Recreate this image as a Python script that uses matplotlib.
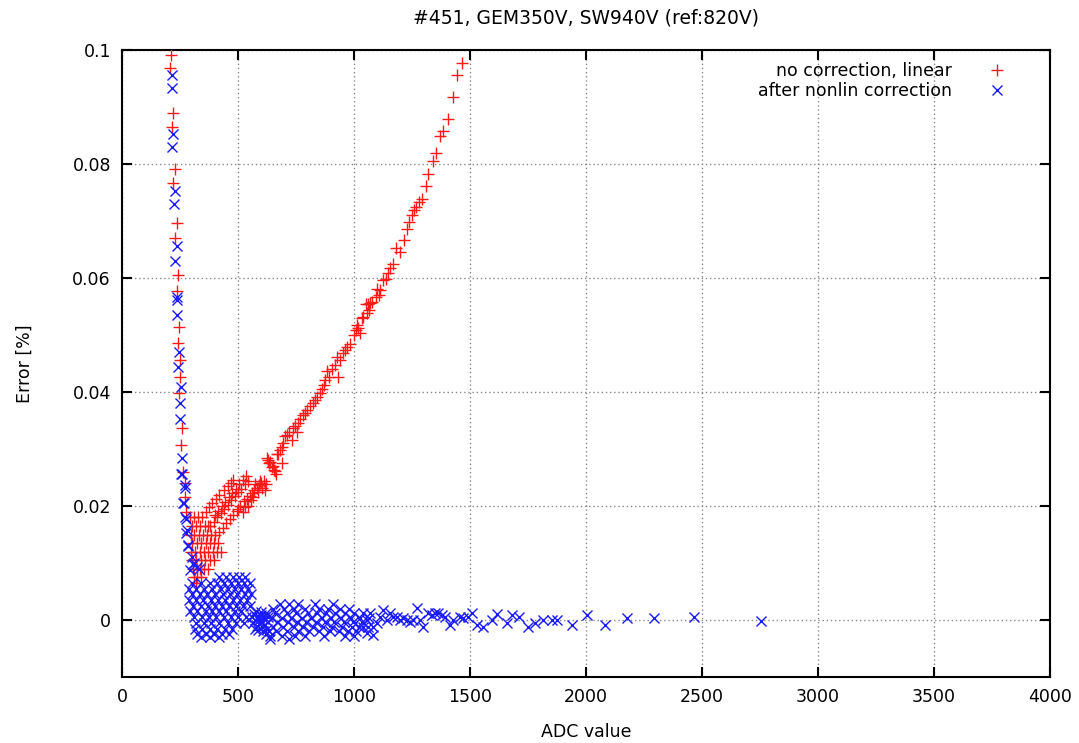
import matplotlib
matplotlib.use("Agg")
import matplotlib.pyplot as plt
from matplotlib.lines import Line2D

title = "#451, GEM350V, SW940V (ref:820V)"
xlabel = "ADC value"
ylabel = "Error [%]"
label_red = "no correction, linear"
label_blue = "after nonlin correction"
xticks = [0, 500, 1000, 1500, 2000, 2500, 3000, 3500, 4000]
yticks = [0, 0.02, 0.04, 0.06, 0.08, 0.1]
ytick_labels = ["0", "0.02", "0.04", "0.06", "0.08", "0.1"]

# ---- red: no correction, linear ----
red_steep_x = [210, 207, 221, 215, 228, 221, 235, 228, 240, 236, 245, 242, 252, 250, 247, 257, 253, 272, 265, 270, 278]
red_steep_y = [0.0991, 0.0968, 0.0889, 0.0865, 0.0792, 0.0766, 0.0697, 0.0671, 0.0605, 0.0578, 0.0514, 0.0486,
               0.0456, 0.0427, 0.0398, 0.0336, 0.0307, 0.0240, 0.0260, 0.0215, 0.0190]

red_lobe_x = [295, 312, 328, 345,
              300, 318, 338, 356, 372,
              296, 310, 330, 348, 368, 385, 400,
              300, 322, 340, 360, 380, 398, 415,
              298, 315, 335, 352, 372, 392, 410, 428,
              302, 320, 340, 358, 378, 395,
              305, 322, 338, 355, 372,
              310, 325, 342,
              318]
red_lobe_y = [0.018, 0.018, 0.018, 0.018,
              0.0165, 0.0165, 0.0165, 0.0165, 0.0165,
              0.015, 0.015, 0.015, 0.015, 0.015, 0.015, 0.015,
              0.0135, 0.0135, 0.0135, 0.0135, 0.0135, 0.0135, 0.0135,
              0.012, 0.012, 0.012, 0.012, 0.012, 0.012, 0.012, 0.012,
              0.0105, 0.0105, 0.0105, 0.0105, 0.0105, 0.0105,
              0.009, 0.009, 0.009, 0.009, 0.009,
              0.0075, 0.0075, 0.0075,
              0.0065]

red_band_x = [380, 395, 410, 425, 440, 455, 470, 485, 500, 515, 530, 545,
              400, 415, 430, 445, 460, 475, 490, 505, 520, 535,
              420, 435, 450, 465, 480, 495, 510, 525,
              360, 375, 390, 405, 420, 440, 455, 470, 480,
              540, 550, 560, 570, 580, 590, 600, 610, 620, 575, 595, 605, 615, 585, 565, 555,
              500, 520, 530, 545]
red_band_y = [0.0165, 0.0172, 0.018, 0.0188, 0.0195, 0.0202, 0.021, 0.0218, 0.0225, 0.023, 0.0238, 0.0243,
              0.0185, 0.0192, 0.0200, 0.0207, 0.0215, 0.0222, 0.023, 0.0238, 0.0245, 0.0252,
              0.0155, 0.0162, 0.017, 0.0178, 0.0185, 0.0192, 0.02, 0.0208,
              0.019, 0.0198, 0.0205, 0.0212, 0.022, 0.0228, 0.0235, 0.024, 0.0245,
              0.0212, 0.0218, 0.0222, 0.0228, 0.0232, 0.0236, 0.024, 0.0243, 0.0238, 0.0238, 0.0244, 0.0232, 0.0228, 0.0225, 0.0215, 0.021,
              0.0195, 0.019, 0.0198, 0.020]

red_upper_x = [624, 635, 645, 655, 664, 630, 640, 650, 660,
               667, 674, 681, 688, 695, 688, 703, 712, 721, 731,
               736, 753, 746, 760, 767, 779, 789, 799,
               810, 822, 832, 839, 853, 861, 871, 875,
               893, 882, 932, 904, 918, 928, 940,
               951, 961, 971, 983, 1009, 1019, 1012, 1000, 1026,
               1033, 1040, 1052, 1062, 1066, 1076, 1055, 1069,
               1095, 1109, 1100, 1112, 1126, 1138, 1148, 1155, 1167,
               1198, 1181, 1215, 1227, 1238, 1249, 1259, 1267, 1281, 1292,
               1309, 1320, 1339, 1353, 1371, 1385, 1404, 1428, 1445, 1467]
red_upper_y = [0.0284, 0.0275, 0.0269, 0.0263, 0.0257, 0.0280, 0.0278, 0.0270, 0.0262,
               0.0291, 0.0292, 0.0299, 0.0304, 0.0310, 0.0275, 0.0322, 0.0324, 0.0330, 0.0316,
               0.0336, 0.0330, 0.0340, 0.0345, 0.0352, 0.0360, 0.0363, 0.0368,
               0.0375, 0.0380, 0.0386, 0.0392, 0.0398, 0.0406, 0.0412, 0.0421,
               0.0427, 0.0436, 0.0427, 0.0441, 0.0447, 0.0462, 0.0456,
               0.0468, 0.0474, 0.0479, 0.0485, 0.0509, 0.0512, 0.0517, 0.0500, 0.0503,
               0.0529, 0.0532, 0.0555, 0.0555, 0.0544, 0.0558, 0.0538, 0.0557,
               0.0567, 0.0570, 0.0580, 0.0579, 0.0596, 0.0599, 0.0609, 0.0617, 0.0624,
               0.0646, 0.0652, 0.0667, 0.0686, 0.0699, 0.0710, 0.0720, 0.0725, 0.0734, 0.0738,
               0.0762, 0.0782, 0.0805, 0.0819, 0.0849, 0.0858, 0.0879, 0.0918, 0.0957, 0.0978]

# ---- blue: after nonlin correction ----
blue_steep_x = [214, 214, 221, 217, 228, 224, 235, 228, 238, 238, 236, 246, 240, 254, 250, 250, 259, 254, 272, 267,
                278, 278, 285, 257, 272, 264, 272, 279, 286, 300, 307, 322, 293, 310, 330]
blue_steep_y = [0.0956, 0.0934, 0.0852, 0.0829, 0.0753, 0.0729, 0.0656, 0.0630, 0.0567, 0.0561, 0.0535, 0.0471,
                0.0443, 0.0408, 0.0381, 0.0352, 0.0285, 0.0257, 0.0231, 0.0205, 0.0178, 0.0152, 0.0129,
                0.0257, 0.0237, 0.0205, 0.0181, 0.0158, 0.0132, 0.0111, 0.0099, 0.0093, 0.0088, 0.0100, 0.0090]

blue_c1_x = [420, 450, 480, 505, 530,
             300, 340, 380, 410, 440, 470, 500, 525, 550,
             290, 320, 355, 390, 425, 455, 485, 515, 545,
             300, 335, 365, 400, 435, 465, 495, 530, 555,
             290, 320, 350, 385, 415, 445, 480, 510, 540,
             305, 340, 370, 400, 430, 460, 490, 520, 550,
             295, 325, 360, 390, 420, 450, 485, 515,
             310, 345, 375, 405, 440, 470, 500, 535,
             320, 355, 385, 420, 455, 490, 525,
             315, 345, 380, 410, 445, 475,
             325, 360, 395, 430, 460,
             340, 380, 420]
blue_c1_y = [0.0075] * 5 + [0.0065] * 9 + [0.0055] * 9 + [0.0045] * 9 + [0.0035] * 9 + \
            [0.0025] * 9 + [0.0015] * 8 + [0.0005] * 8 + [-0.0005] * 7 + [-0.0015] * 6 + \
            [-0.0025] * 5 + [-0.003] * 3

blue_c2_x = [560, 565, 570, 575, 580, 585, 590, 595, 600, 605, 610, 615, 620, 625, 630,
             578, 598, 588, 608, 572, 592, 582, 602, 612, 635, 622, 640]
blue_c2_y = [0.0005, -0.0005, 0.001, 0.0, -0.001, 0.0005, 0.0, -0.0005, 0.0008, -0.0012, 0.0002, -0.0008,
             0.0012, -0.0015, 0.0005, 0.0015, 0.0014, -0.0018, -0.002, -0.0015, 0.0006, 0.0003, -0.0003,
             0.0006, -0.002, -0.0025, -0.0028]

blue_c3_x = [680, 720, 760, 830, 910,
             650, 700, 740, 790, 850, 890, 940, 980,
             660, 710, 750, 800, 840, 880, 920, 960, 1000, 1040,
             645, 690, 730, 775, 815, 860, 900, 945, 985, 1025, 1065,
             670, 715, 755, 795, 835, 875, 915, 955, 995, 1035,
             650, 695, 740, 780, 825, 865, 905, 950, 990, 1020, 1060,
             665, 710, 760, 805, 850, 895, 935, 975, 1010,
             690, 745, 790, 870, 960, 1000,
             640, 720]
blue_c3_y = [0.0028] * 5 + [0.002] * 8 + [0.0012] * 10 + [0.0004] * 11 + [-0.0004] * 10 + \
            [-0.0012] * 11 + [-0.002] * 9 + [-0.0028] * 6 + [-0.0034] * 2

blue_tail_x = [1040, 1055, 1069, 1083, 1098, 1112, 1126, 1141, 1155, 1170, 1184, 1198, 1212, 1227, 1241, 1256,
               1055, 1083, 1270, 1284, 1299, 1320, 1335, 1349, 1363, 1378, 1392, 1414, 1428, 1457, 1471,
               1493, 1507, 1529, 1557, 1594, 1615, 1658, 1680, 1713, 1751, 1780, 1816, 1852, 1873, 1938,
               2003, 2082, 2175, 2294, 2465, 2753]
blue_tail_y = [-0.0012, 0.0, 0.0012, -0.0012, -0.0006, 0.0006, 0.0018, 0.0, 0.0012, 0.0006, 0.0006, 0.0,
               0.0003, 0.0, -0.0003, 0.0, -0.0023, -0.0026, 0.0021, 0.0, -0.0012, 0.0012, 0.0009, 0.0012,
               0.0012, 0.0009, 0.0006, -0.0009, 0.0, 0.0006, 0.0003, 0.0006, 0.0012, -0.0009, -0.0012, 0.0,
               0.0011, -0.0005, 0.0009, 0.0006, -0.0012, -0.0006, 0.0, 0.0, 0.0, -0.0009, 0.0009, -0.0009,
               0.0003, 0.0003, 0.0006, -0.0001]

red_x = red_steep_x + red_lobe_x + red_band_x + red_upper_x
red_y = red_steep_y + red_lobe_y + red_band_y + red_upper_y
blue_x = blue_steep_x + blue_c1_x + blue_c2_x + blue_c3_x + blue_tail_x
blue_y = blue_steep_y + blue_c1_y + blue_c2_y + blue_c3_y + blue_tail_y

plt.rcParams['font.family'] = ['DejaVu Sans']

fig = plt.figure(figsize=(10.79, 7.43), dpi=100)
ax = fig.add_axes([122 / 1079, 1 - 677 / 743, (1050 - 122) / 1079, (677 - 50) / 743])

ax.plot(red_x, red_y, linestyle='none', marker='+', color='#ff1a1a', markersize=8, markeredgewidth=1.0, zorder=3)
ax.plot(blue_x, blue_y, linestyle='none', marker='x', color='#1a1aff', markersize=7, markeredgewidth=1.0, zorder=3)

ax.set_xlim(0, 4000)
ax.set_ylim(-0.01, 0.1)
ax.set_xticks(xticks)
ax.set_xticklabels([str(t) for t in xticks])
ax.set_yticks(yticks)
ax.set_yticklabels(ytick_labels)
ax.grid(True, color='#888888', linestyle=(0, (1, 2)), linewidth=1.0, zorder=1)
ax.tick_params(direction='in', length=7, width=1.5, top=True, right=True, labelsize=12.5, pad=8, colors='black')
for sp in ax.spines.values():
    sp.set_linewidth(1.5)

ax.set_title(title, fontsize=13.5, pad=19)
ax.set_xlabel(xlabel, fontsize=12.5, labelpad=12)
ax.set_ylabel(ylabel, fontsize=12.5, labelpad=28)

handles = [Line2D([], [], linestyle='none', marker='+', color='#ff1a1a', markersize=8, markeredgewidth=1.0),
           Line2D([], [], linestyle='none', marker='x', color='#1a1aff', markersize=7, markeredgewidth=1.0)]
leg = ax.legend(handles, [label_red, label_blue], loc='upper right', frameon=False, fontsize=12.5,
                markerfirst=False, handletextpad=1.6, labelspacing=0.1, borderaxespad=0.3,
                bbox_to_anchor=(0.975, 1.0))
for t in leg.get_texts():
    t.set_ha('right')

fig.savefig("out.png", dpi=100)
